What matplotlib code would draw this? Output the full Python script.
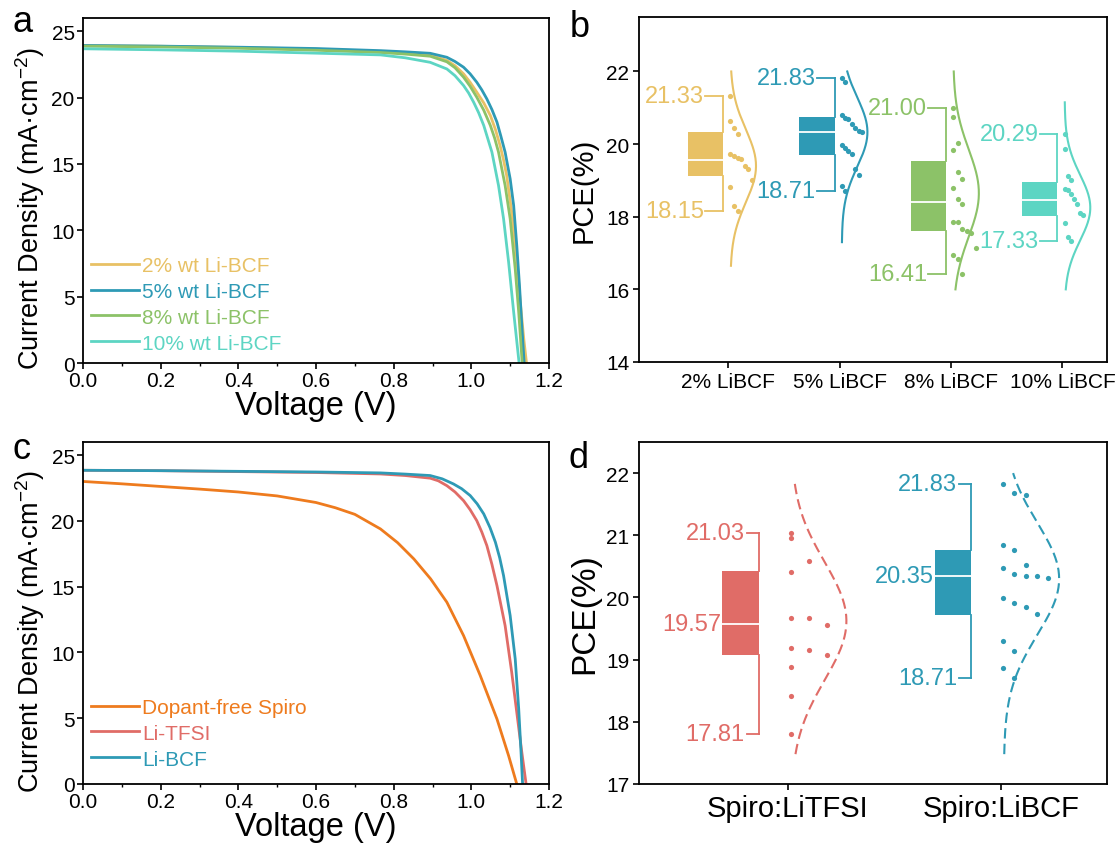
import numpy as np
import matplotlib.pyplot as plt

plt.rcParams['font.family'] = 'Liberation Sans'
plt.rcParams['mathtext.fontset'] = 'custom'
plt.rcParams['mathtext.rm'] = 'Liberation Sans'
plt.rcParams['mathtext.it'] = 'Liberation Sans:italic'
plt.rcParams['axes.linewidth'] = 1.3

# J-V curves for different Li-BCF contents (panel a)
v_2 = [0.0, 0.2, 0.4, 0.6, 0.766, 0.83, 0.894, 0.937, 0.958, 0.980, 0.997, 1.014, 1.032, 1.049, 1.062,
       1.074, 1.083, 1.091, 1.104, 1.117, 1.126, 1.135, 1.142]
j_2 = [23.92, 23.87, 23.78, 23.65, 23.48, 23.37, 23.20, 22.80, 22.40, 21.79, 21.15, 20.41, 19.60, 18.65, 17.60,
       16.39, 15.30, 14.13, 11.37, 7.85, 4.59, 1.83, 0.0]
v_5 = [0.0, 0.2, 0.4, 0.6, 0.766, 0.83, 0.894, 0.937, 0.958, 0.980, 0.997, 1.014, 1.027, 1.040, 1.053,
       1.066, 1.076, 1.087, 1.100, 1.109, 1.117, 1.124, 1.130, 1.136]
j_5 = [23.93, 23.88, 23.80, 23.70, 23.54, 23.45, 23.34, 23.04, 22.72, 22.29, 21.79, 21.16, 20.58, 19.90, 19.10,
       18.15, 17.10, 15.89, 13.88, 11.87, 8.86, 5.85, 2.83, 0.0]
v_8 = [0.0, 0.2, 0.4, 0.6, 0.766, 0.83, 0.894, 0.937, 0.958, 0.980, 0.997, 1.014, 1.032, 1.049, 1.060,
       1.070, 1.087, 1.100, 1.113, 1.122, 1.131]
j_8 = [23.88, 23.82, 23.72, 23.57, 23.40, 23.28, 23.12, 22.70, 22.25, 21.54, 20.85, 20.03, 19.05, 17.90, 16.95,
       15.89, 13.38, 10.87, 7.10, 3.84, 0.0]
v_10 = [0.0, 0.2, 0.4, 0.6, 0.766, 0.83, 0.894, 0.937, 0.958, 0.980, 0.993, 1.006, 1.019, 1.032, 1.053,
        1.070, 1.083, 1.096, 1.109, 1.123]
j_10 = [23.68, 23.60, 23.50, 23.35, 23.22, 23.00, 22.66, 22.16, 21.65, 20.91, 20.35, 19.65, 18.85, 17.90, 15.89,
        13.38, 10.87, 7.60, 3.84, 0.0]
labels_a = ['2% wt Li-BCF', '5% wt Li-BCF', '8% wt Li-BCF', '10% wt Li-BCF']

# J-V curves for dopant-free, Li-TFSI and Li-BCF devices (panel c)
v_free = [0.0, 0.1, 0.2, 0.3, 0.4, 0.5, 0.6, 0.65, 0.7, 0.766, 0.81, 0.852, 0.895, 0.937, 0.980, 1.023,
          1.066, 1.096, 1.117]
j_free = [23.00, 22.82, 22.62, 22.42, 22.20, 21.90, 21.40, 21.00, 20.50, 19.39, 18.35, 17.11, 15.60, 13.82,
          11.28, 8.24, 4.94, 2.15, 0.0]
v_tfsi = [0.0, 0.2, 0.4, 0.6, 0.766, 0.83, 0.894, 0.915, 0.937, 0.958, 0.980, 0.997, 1.014, 1.027, 1.040,
          1.053, 1.066, 1.087, 1.104, 1.117, 1.130, 1.141]
j_tfsi = [23.85, 23.82, 23.75, 23.68, 23.57, 23.45, 23.25, 23.05, 22.68, 22.20, 21.54, 20.85, 20.02, 19.15,
          18.12, 16.70, 15.08, 12.04, 8.49, 5.45, 2.41, 0.0]
v_bcf = [0.0, 0.2, 0.4, 0.6, 0.766, 0.83, 0.894, 0.925, 0.954, 0.975, 0.997, 1.015, 1.032, 1.048, 1.062,
         1.073, 1.083, 1.100, 1.113, 1.122, 1.128, 1.132]
j_bcf = [23.85, 23.82, 23.77, 23.72, 23.65, 23.56, 23.45, 23.20, 22.81, 22.45, 21.93, 21.30, 20.53, 19.50,
         18.38, 17.20, 15.84, 12.80, 9.51, 5.70, 2.41, 0.0]
labels_c = ['Dopant-free Spiro', 'Li-TFSI', 'Li-BCF']

# PCE statistics, panel b
groups_b = ['2% LiBCF', '5% LiBCF', '8% LiBCF', '10% LiBCF']
pce_2 = [21.33, 20.64, 20.43, 20.28, 19.72, 19.68, 19.63, 19.59, 19.40, 19.31, 19.02, 18.81, 18.30, 18.15]
pce_5 = [21.83, 21.70, 20.80, 20.73, 20.69, 20.55, 20.43, 20.37, 20.34, 19.97, 19.90, 19.80, 19.72,
         19.31, 19.15, 18.85, 18.71]
pce_8 = [21.00, 20.76, 20.02, 19.84, 19.24, 19.04, 18.80, 18.48, 18.35, 17.86, 17.86, 17.66, 17.62,
         17.55, 17.13, 16.94, 16.83, 16.41]
pce_10 = [20.29, 19.86, 19.13, 19.02, 18.76, 18.74, 18.62, 18.48, 18.35, 18.10, 18.04, 17.84, 17.45, 17.33]
q1_b = [19.13, 19.71, 17.60, 18.02]
med_b = [19.57, 20.32, 18.40, 18.47]
q3_b = [20.34, 20.76, 19.54, 18.96]
fit_mu_b = [19.40, 20.33, 18.65, 18.25]
fit_sd_b = [1.00, 0.95, 1.20, 0.90]
fit_lo_b = [16.65, 17.30, 16.00, 16.00]
fit_hi_b = [22.00, 22.00, 22.00, 21.15]

# PCE statistics, panel d
groups_d = ['Spiro:LiTFSI', 'Spiro:LiBCF']
pce_tfsi = [21.03, 20.95, 20.58, 20.41, 19.67, 19.67, 19.56, 19.18, 19.16, 19.08, 18.88, 18.42, 17.81]
pce_bcf = [21.83, 21.68, 21.64, 20.84, 20.76, 20.52, 20.48, 20.37, 20.35, 20.35, 20.32, 19.99, 19.91,
           19.84, 19.74, 19.30, 19.14, 18.86, 18.71]
q1_d = [19.07, 19.72]
med_d = [19.57, 20.35]
q3_d = [20.42, 20.77]
fit_mu_d = [19.62, 20.30]
fit_sd_d = [0.95, 0.90]
fit_lo_d = [17.48, 17.48]
fit_hi_d = [21.86, 22.00]

c2, c5, c8, c10 = '#E8C165', '#2E9AB5', '#8CC268', '#5DD5C3'
c_tfsi, c_free = '#E06C67', '#EE7B1E'

W, H = 1116, 854


def px_axes(fig, left, top, right, bottom):
    return fig.add_axes([left / W, 1 - bottom / H, (right - left) / W, (bottom - top) / H])


def bin_offsets(vals, width, step, start):
    # Origin-style "bin" jitter: dots sharing a bin are stacked sideways
    vals = np.asarray(vals)
    bins = np.floor(vals / width)
    offs = np.zeros(len(vals))
    for b in np.unique(bins):
        idx = np.where(bins == b)[0]
        idx = idx[np.argsort(-vals[idx])]
        for k, i in enumerate(idx):
            offs[i] = start + k * step
    return offs


def style_jv(ax):
    ax.set_xlim(0, 1.2)
    ax.set_ylim(0, 26)
    ax.set_xticks(np.arange(0, 1.21, 0.2))
    ax.set_xticks(np.arange(0.1, 1.2, 0.2), minor=True)
    ax.set_yticks(range(0, 26, 5))
    ax.xaxis.set_major_formatter(plt.FormatStrFormatter('%.1f'))
    ax.tick_params(which='major', direction='out', length=4, width=1.2, labelsize=15, pad=2)
    ax.tick_params(which='minor', direction='out', length=2.5, width=1.0)
    ax.set_xlabel('Voltage (V)', fontsize=23.5, labelpad=0)
    ax.set_ylabel('Current Density (mA·cm$^{-2}$)', fontsize=19.5, labelpad=3)
    ax.yaxis.label.set_y(0.45)


def draw_stats(ax, pos, vals, q1, med, q3, color, box, cap, fit, dots, fs, dashed, med_label):
    lo, hi = min(vals), max(vals)
    b0, b1 = box
    ax.fill_between([pos + b0, pos + b1], q1, q3, color=color, lw=0, zorder=2)
    ax.plot([pos + b0, pos + b1], [med, med], color='white', lw=1.3, zorder=3)
    wx = pos + b1
    ax.plot([wx, wx], [lo, q1], color=color, lw=1.3, zorder=2)
    ax.plot([wx, wx], [q3, hi], color=color, lw=1.3, zorder=2)
    for y in (lo, hi):
        ax.plot([wx - cap, wx], [y, y], color=color, lw=1.3, zorder=2)
        ax.text(wx - cap - 0.01, y, f'{y:.2f}', color=color, fontsize=fs, ha='right', va='center')
    if med_label:
        ax.text(pos + b0 - 0.005, med, f'{med:.2f}', color=color, fontsize=fs, ha='right', va='center')
    mu, sd, ylo, yhi, base, amp = fit
    yy = np.linspace(ylo, yhi, 200)
    xx = pos + base + amp * np.exp(-0.5 * ((yy - mu) / sd) ** 2)
    ls = (0, (5, 2.5)) if dashed else '-'
    ax.plot(xx, yy, color=color, lw=1.5, ls=ls, zorder=2)
    width, step, start = dots
    ax.scatter(pos + bin_offsets(vals, width, step, start), vals, s=14, color=color, lw=0, zorder=4)


fig = plt.figure(figsize=(W / 100, H / 100), dpi=100)

leg_kw = dict(loc='lower left', frameon=False, fontsize=15, handlelength=2.3, handletextpad=0.15,
              labelspacing=0.33, borderpad=0.0, borderaxespad=0.0, labelcolor='linecolor')

# panel a
ax_a = px_axes(fig, 83, 19, 549, 364)
for v, j, col, lab in zip([v_2, v_5, v_8, v_10], [j_2, j_5, j_8, j_10], [c2, c5, c8, c10], labels_a):
    ax_a.plot(v, j, color=col, lw=2.0, label=lab, solid_joinstyle='round')
style_jv(ax_a)
ax_a.legend(bbox_to_anchor=(0.018, 0.03), **leg_kw)

# panel c
ax_c = px_axes(fig, 83, 443, 549, 785)
for v, j, col, lab in zip([v_free, v_tfsi, v_bcf], [j_free, j_tfsi, j_bcf], [c_free, c_tfsi, c5], labels_c):
    ax_c.plot(v, j, color=col, lw=2.0, label=lab, solid_joinstyle='round')
style_jv(ax_c)
ax_c.legend(bbox_to_anchor=(0.018, 0.045), **leg_kw)

# panel b
ax_b = px_axes(fig, 639, 18, 1107, 363)
cols_b = [c2, c5, c8, c10]
steps_b = [0.032, 0.030, 0.040, 0.028]
for i, vals in enumerate([pce_2, pce_5, pce_8, pce_10]):
    draw_stats(ax_b, i + 1, vals, q1_b[i], med_b[i], q3_b[i], cols_b[i],
               box=(-0.36, -0.045), cap=0.16,
               fit=(fit_mu_b[i], fit_sd_b[i], fit_lo_b[i], fit_hi_b[i], 0.02, 0.23),
               dots=(1.0, steps_b[i], 0.02), fs=17, dashed=False, med_label=False)
ax_b.set_xlim(0.2, 4.4)
ax_b.set_ylim(14, 23.5)
ax_b.set_yticks(range(14, 23, 2))
ax_b.set_xticks(range(1, 5))
ax_b.set_xticklabels(groups_b)
ax_b.tick_params(direction='out', length=4, width=1.2, labelsize=15, pad=3)
ax_b.set_ylabel('PCE(%)', fontsize=21, labelpad=6)

# panel d
ax_d = px_axes(fig, 639, 443, 1107, 785)
cols_d = [c_tfsi, c5]
steps_d = [0.085, 0.052]
for i, vals in enumerate([pce_tfsi, pce_bcf]):
    draw_stats(ax_d, i + 1, vals, q1_d[i], med_d[i], q3_d[i], cols_d[i],
               box=(-0.31, -0.137), cap=0.057,
               fit=(fit_mu_d[i], fit_sd_d[i], fit_lo_d[i], fit_hi_d[i], 0.015, 0.26),
               dots=(0.5, steps_d[i], 0.013), fs=17, dashed=True, med_label=True)
ax_d.set_xlim(0.3, 2.5)
ax_d.set_ylim(17, 22.5)
ax_d.set_yticks(range(17, 23))
ax_d.set_xticks([1, 2])
ax_d.set_xticklabels(groups_d)
ax_d.tick_params(axis='y', direction='out', length=4, width=1.2, labelsize=15, pad=3)
ax_d.tick_params(axis='x', direction='out', length=4, width=1.2, labelsize=21, pad=3)
ax_d.set_ylabel('PCE(%)', fontsize=24, labelpad=4)

# panel letters
for x, y, t in [(12, 32, 'a'), (570, 37, 'b'), (12, 459, 'c'), (568, 468, 'd')]:
    fig.text(x / W, 1 - y / H, t, fontsize=26, va='baseline', ha='left')

fig.savefig('out.png', dpi=100)
